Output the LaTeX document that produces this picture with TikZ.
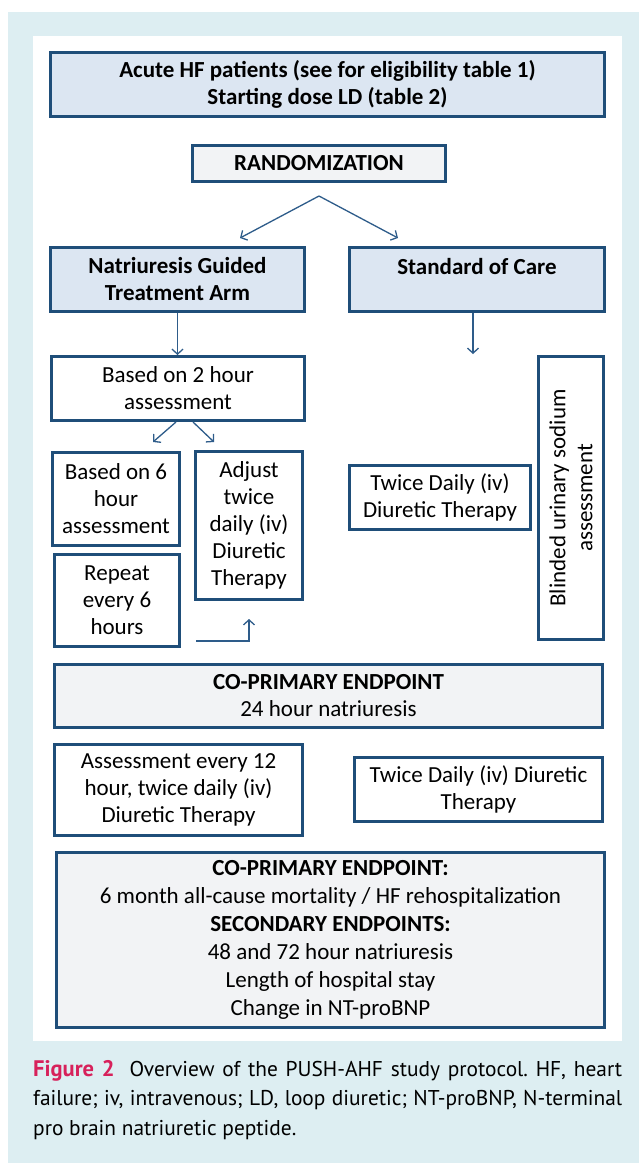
\documentclass[tikz,border=0pt]{standalone}
\usepackage{fontspec}
\setmainfont{Carlito}
\newfontfamily\capfont{PT Sans}
\usetikzlibrary{shapes,arrows,arrows.meta,positioning}

\definecolor{frameblue}{HTML}{1F4E79}
\definecolor{arrowblue}{HTML}{2E5C8A}
\definecolor{headfill}{HTML}{DCE6F2}
\definecolor{endfill}{HTML}{F2F3F5}
\definecolor{pageblue}{HTML}{DDEEF2}
\definecolor{figred}{HTML}{D7215B}

\tikzset{
	box/.style={draw=frameblue, line width=3pt, align=center, inner sep=1pt, fill=white,
		font=\fontsize{23}{27}\selectfont},
	headbox/.style={box, fill=headfill, font=\fontsize{23}{27}\selectfont\bfseries},
	endbox/.style={box, fill=endfill},
	link/.style={-{Straight Barb[length=5pt,width=11pt]}, draw=arrowblue, line width=1.3pt},
}

\begin{document}
\begin{tikzpicture}[x=1pt, y=-1pt]
	\useasboundingbox (0,0) rectangle (639,1163);
	\fill[pageblue] (8,12) rectangle (639,1163);
	\fill[white] (33,36) rectangle (622,1041);

	\node[headbox, minimum width=554, minimum height=64] (pat) at (327.5,84.5) {Acute HF patients (see for eligibility table 1)\\ Starting dose LD (table 2)};
	\node[endbox, font=\fontsize{23}{27}\selectfont\bfseries, minimum width=253, minimum height=36] (rand) at (319,163.5) {RANDOMIZATION};

	\node[headbox, minimum width=254, minimum height=64] (natr) at (177.5,279.5) {Natriuresis Guided\\ Treatment Arm};
	\node[headbox, minimum width=255, minimum height=64] (stdc) at (477,279.5) {Standard of Care\\ \mbox{}};

	\node[box, minimum width=253, minimum height=64] (two) at (178,388.5) {Based on 2 hour\\ assessment};
	\node[box, minimum width=127, minimum height=93] (six) at (116,499) {Based on 6\\ hour\\ assessment};
	\node[box, minimum width=107, minimum height=148] (adj) at (249,525.5) {Adjust\\ twice\\ daily (iv)\\ Diuretic\\ Therapy};
	\node[box, minimum width=125, minimum height=92] (rep) at (117,600.5) {Repeat\\ every 6\\ hours};
	\node[box, minimum width=181, minimum height=64] (twd) at (440,497.5) {Twice Daily (iv)\\ Diuretic Therapy};
	\node[box, rotate=90, minimum width=283, minimum height=65] (blind) at (571,498) {Blinded urinary sodium\\ assessment};

	\node[endbox, minimum width=548, minimum height=63] (cop) at (328.5,696) {\textbf{CO-PRIMARY ENDPOINT}\\ 24 hour natriuresis};
	\node[box, minimum width=248, minimum height=91] (ass) at (178.5,790) {Assessment every 12\\ hour, twice daily (iv)\\ Diuretic Therapy};
	\node[box, minimum width=248, minimum height=64] (twd2) at (478.5,789.5) {Twice Daily (iv) Diuretic\\ Therapy};
	\node[endbox, minimum width=548, minimum height=175, font=\fontsize{23}{28}\selectfont] (endp) at (330.5,940) {\textbf{CO-PRIMARY ENDPOINT:}\\ 6 month all-cause mortality / HF rehospitalization\\ \textbf{SECONDARY ENDPOINTS:}\\ 48 and 72 hour natriuresis\\ Length of hospital stay\\ Change in NT-proBNP};

	% arrows
	\coordinate[below=13pt of rand] (split);
	\coordinate (natrin) at (240,238);
	\coordinate (stdcin) at (398,238);
	\coordinate (stdcout) at (473,354);
	\coordinate (sixin) at (153,442);
	\coordinate (adjin) at (214,442);
	\coordinate (loopstart) at (196,641);
	\coordinate (loopend) at (249,619);

	\draw[link] (split) -- (natrin);
	\draw[link] (split) -- (stdcin);
	\draw[link] (natr.south) -- (natr.south |- two.north);
	\draw[link] (stdc.south -| stdcout) -- (stdcout);
	\draw[link] ([xshift=-2pt]two.south) -- (sixin);
	\draw[link] ([xshift=15pt]two.south) -- (adjin);
	\draw[link] (loopstart) -| (loopend);

	\node[anchor=north west, inner sep=0pt, text width=589pt, align=justify,
		font=\capfont\fontsize{21.4}{29.5}\selectfont\frenchspacing] (caption) at (33,1060)
		{{\color{figred}\bfseries\fontsize{22.5}{29.5}\selectfont Figure 2}\hspace{0.7em}Overview of the PUSH-AHF study protocol. HF, heart\linebreak failure; iv, intravenous; LD, loop diuretic; NT-proBNP, \mbox{N-terminal}\linebreak pro brain natriuretic peptide.};
\end{tikzpicture}
\end{document}
